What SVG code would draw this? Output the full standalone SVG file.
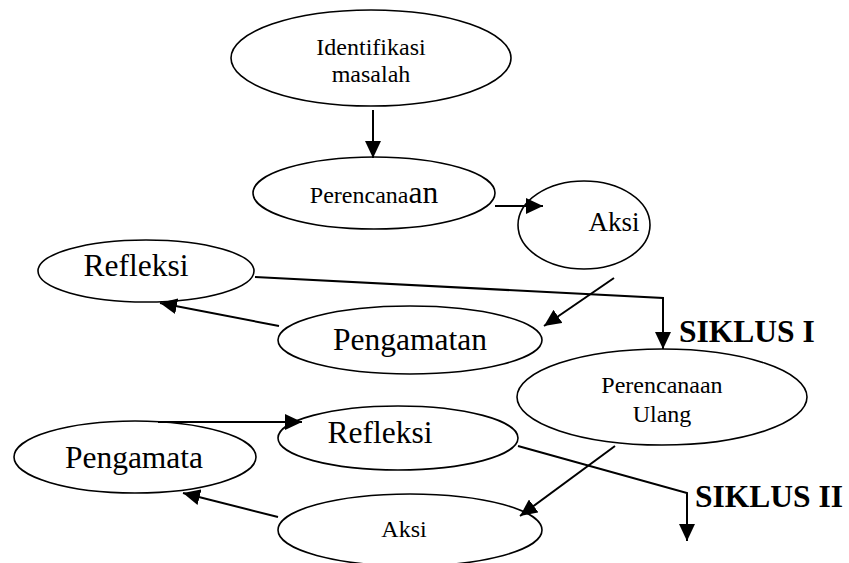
<svg xmlns="http://www.w3.org/2000/svg" width="849" height="563" viewBox="0 0 849 563">
<style>
.n{fill:#fff;stroke:#000;stroke-width:1.6}
.t{font-family:"Liberation Serif","Times New Roman",serif;fill:#000;text-anchor:middle}
.s{font-size:24px}
.b{font-size:31.5px}
.k{font-family:"Liberation Serif","Times New Roman",serif;font-weight:bold;font-size:31.5px;fill:#000}
.c{fill:none;stroke:#000;stroke-width:2}
</style>
<defs>
<marker id="ah" markerUnits="userSpaceOnUse" markerWidth="18" markerHeight="16" refX="17" refY="8" orient="auto">
<path d="M0,0 L17,8 L0,16 z" fill="#000"/>
</marker>
</defs>
<rect width="849" height="563" fill="#fff"/>
<g id="identifikasi">
<ellipse class="n" cx="371" cy="58" rx="140" ry="48"/>
<text class="t s" x="371" y="55">Identifikasi</text>
<text class="t s" x="371" y="82">masalah</text>
</g>
<g id="perencanaan">
<ellipse class="n" cx="374" cy="193" rx="121" ry="36"/>
<text class="t" x="374" y="203"><tspan class="s">Perencana</tspan><tspan class="b">an</tspan></text>
</g>
<g id="aksi1">
<ellipse class="n" cx="584" cy="225" rx="66" ry="44"/>
<text class="t" x="614" y="231" style="font-size:27px">Aksi</text>
</g>
<g id="refleksi1">
<ellipse class="n" cx="146" cy="271" rx="108" ry="31"/>
<text class="t b" x="136" y="276">Refleksi</text>
</g>
<g id="pengamatan1">
<ellipse class="n" cx="410" cy="340" rx="132" ry="34"/>
<text class="t b" x="410" y="350">Pengamatan</text>
</g>
<g id="siklus1">
<text class="k" x="679" y="342">SIKLUS I</text>
</g>
<g id="perencanaan-ulang">
<ellipse class="n" cx="662" cy="397" rx="145" ry="48"/>
<text class="t s" x="662" y="393">Perencanaan</text>
<text class="t s" x="662" y="422">Ulang</text>
</g>
<g id="refleksi2">
<ellipse class="n" cx="398" cy="438" rx="120" ry="32"/>
<text class="t b" x="380" y="443">Refleksi</text>
</g>
<g id="pengamata2">
<ellipse class="n" cx="135" cy="457" rx="121" ry="36"/>
<text class="t b" x="134" y="468">Pengamata</text>
</g>
<g id="aksi2">
<ellipse class="n" cx="410" cy="530" rx="132" ry="36"/>
<text class="t s" x="404" y="537">Aksi</text>
</g>
<g id="siklus2">
<text class="k" x="695" y="507">SIKLUS II</text>
</g>
<g id="connectors">
<path class="c" d="M373,110 L373,158" marker-end="url(#ah)"/>
<path class="c" d="M495,206 L543,206" marker-end="url(#ah)"/>
<path class="c" d="M614,278 L544,326" marker-end="url(#ah)"/>
<path class="c" d="M279,326 L160,303" marker-end="url(#ah)"/>
<path class="c" d="M255,277 L663,298 L663,349" marker-end="url(#ah)"/>
<path class="c" d="M615,446 L520,516" marker-end="url(#ah)"/>
<path class="c" d="M278,517 L183,493" marker-end="url(#ah)"/>
<path class="c" d="M158,422 L302,422" marker-end="url(#ah)"/>
<path class="c" d="M518,446 L687,493 L687,541" marker-end="url(#ah)"/>
</g>
</svg>
